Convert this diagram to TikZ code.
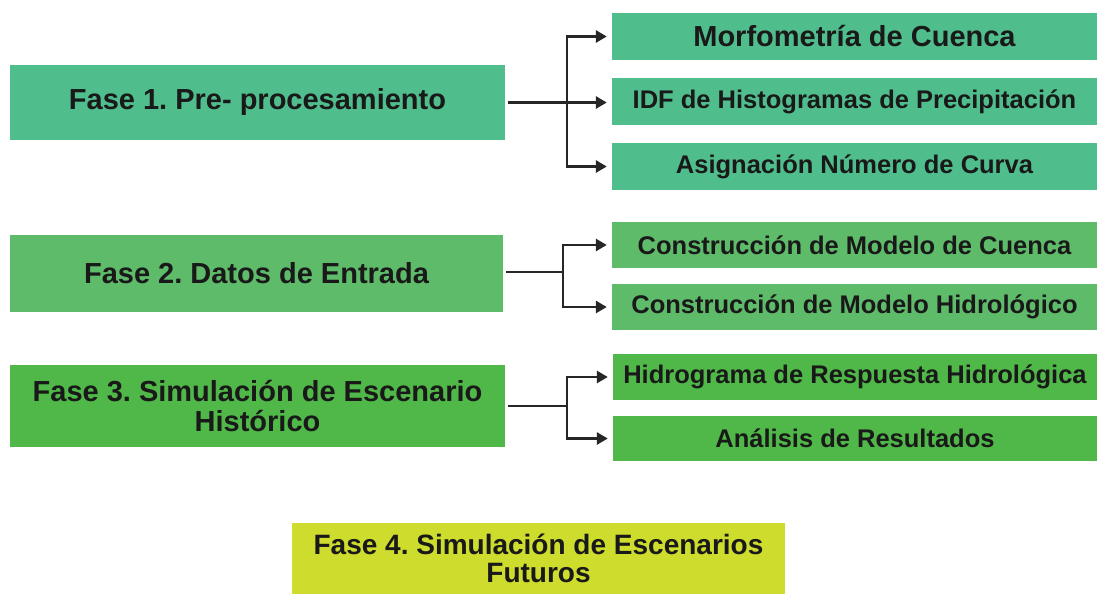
\documentclass[tikz,border=0pt]{standalone}
\usepackage{fontspec}
\setmainfont{Liberation Sans}
\usetikzlibrary{arrows.meta}
\definecolor{gA}{RGB}{80,189,141}
\definecolor{gB}{RGB}{94,187,106}
\definecolor{gC}{RGB}{80,184,72}
\definecolor{gD}{RGB}{205,220,45}
\frenchspacing
\tikzset{
  box/.style={draw=none, inner sep=0pt, align=center, text=black!90,
              font=\bfseries\fontsize{25.5}{28}\selectfont},
  lbox/.style={box, font=\bfseries\fontsize{29}{30}\selectfont},
  conn/.style={line width=2.7pt, draw=black!85},
  arr/.style={conn, -{Triangle[length=11pt,width=12pt]}},
}
\begin{document}
\begin{tikzpicture}[x=1pt,y=-1pt]
\useasboundingbox (0,0) rectangle (1097,594);
\fill[white] (0,0) rectangle (1097,594);

% Group 1
\node[lbox, fill=gA, minimum width=495pt, minimum height=75pt] (f1) at (257.5,102.5) {Fase 1. Pre- procesamiento};
\node[box, fill=gA, minimum width=485pt, minimum height=47pt, font=\bfseries\fontsize{29}{30}\selectfont] (m1) at (854.5,36.5) {Morfometría de Cuenca};
\node[box, fill=gA, minimum width=485pt, minimum height=47pt] (m2) at (854.5,101.5) {IDF de Histogramas de Precipitación};
\node[box, fill=gA, minimum width=485pt, minimum height=47pt] (m3) at (854.5,166.5) {Asignación Número de Curva};

% Group 2
\node[lbox, fill=gB, minimum width=493pt, minimum height=77pt] (f2) at (256.5,273.5) {Fase 2. Datos de Entrada};
\node[box, fill=gB, minimum width=485pt, minimum height=46pt] (c1) at (854.5,245) {Construcción de Modelo de Cuenca};
\node[box, fill=gB, minimum width=485pt, minimum height=46pt] (c2) at (854.5,307) {Construcción de Modelo Hidrológico};

% Group 3
\node[lbox, fill=gC, minimum width=495pt, minimum height=82pt] (f3) at (257.5,406) {Fase 3. Simulación de Escenario\\Histórico};
\node[box, fill=gC, minimum width=484pt, minimum height=46pt] (h1) at (855,377) {Hidrograma de Respuesta Hidrológica};
\node[box, fill=gC, minimum width=484pt, minimum height=45pt] (h2) at (855,438.5) {Análisis de Resultados};

% Phase 4
\node[box, fill=gD, minimum width=493pt, minimum height=71pt, font=\bfseries\fontsize{28}{28}\selectfont] (f4) at (538.5,558.5) {Fase 4. Simulación de Escenarios\\Futuros};

% Connectors group 1
\coordinate (j1) at (567,102.5);
\draw[conn, shorten <=3pt] (f1.east) -- (j1);
\draw[arr, shorten >=5pt] (j1) -- (m2.west |- j1);
\draw[arr, shorten >=5pt] (j1) |- (m1.west);
\draw[arr, shorten >=5pt] (j1) |- (m3.west);

% Connectors group 2
\coordinate (j2) at (563,272);
\draw[conn, shorten <=3pt] (f2.east |- j2) -- (j2);
\draw[arr, shorten >=5pt] (j2) |- (c1.west);
\draw[arr, shorten >=5pt] (j2) |- (c2.west);

% Connectors group 3
\coordinate (j3) at (567,406);
\draw[conn, shorten <=3pt] (f3.east) -- (j3);
\draw[arr, shorten >=5pt] (j3) |- (h1.west);
\draw[arr, shorten >=5pt] (j3) |- (h2.west);
\end{tikzpicture}
\end{document}
